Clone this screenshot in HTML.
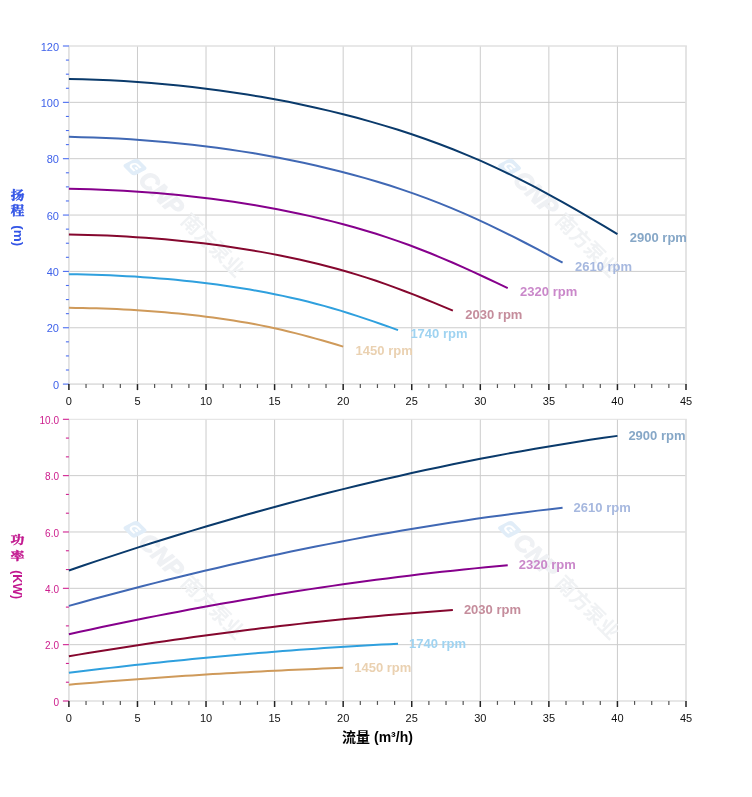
<!DOCTYPE html>
<html lang="zh"><head><meta charset="utf-8"><title>性能曲线</title>
<style>html,body{margin:0;padding:0;background:#fff}body{width:752px;height:797px;overflow:hidden}</style></head>
<body>
<svg width="752" height="797" viewBox="0 0 752 797" style="display:block">
<rect width="752" height="797" fill="#fff"/>
<g stroke="#cccccc" stroke-width="1">
<line x1="137.47" y1="46.0" x2="137.47" y2="384.1"/>
<line x1="206.03" y1="46.0" x2="206.03" y2="384.1"/>
<line x1="274.6" y1="46.0" x2="274.6" y2="384.1"/>
<line x1="343.17" y1="46.0" x2="343.17" y2="384.1"/>
<line x1="411.73" y1="46.0" x2="411.73" y2="384.1"/>
<line x1="480.3" y1="46.0" x2="480.3" y2="384.1"/>
<line x1="548.87" y1="46.0" x2="548.87" y2="384.1"/>
<line x1="617.43" y1="46.0" x2="617.43" y2="384.1"/>
<line x1="68.9" y1="327.75" x2="686.0" y2="327.75"/>
<line x1="68.9" y1="271.4" x2="686.0" y2="271.4"/>
<line x1="68.9" y1="215.05" x2="686.0" y2="215.05"/>
<line x1="68.9" y1="158.7" x2="686.0" y2="158.7"/>
<line x1="68.9" y1="102.35" x2="686.0" y2="102.35"/>
</g>
<path d="M68.9,46.0 V384.1 H686.0 V46.0" fill="none" stroke="#e0e0e0" stroke-width="1.7"/>
<path d="M68.05000000000001,46.0 H686.85" fill="none" stroke="#e0e0e0" stroke-width="1.7"/>
<g transform="translate(135,167.0) rotate(45)">
<g transform="skewX(-18)">
<rect x="-7.8" y="-7.8" width="15.6" height="15.6" rx="3.2" fill="#e1edf8"/>
<path d="M3.6,-3.2 H-0.6 A3.2,3.2 0 0 0 -0.6,3.2 H3.6 M3.6,0 H0.4" fill="none" stroke="#fff" stroke-width="2"/>
</g>
<text x="11.5" y="8.2" font-family="Liberation Sans, Arial, sans-serif" font-weight="bold" font-style="italic" font-size="24.5" fill="#eff1f4" stroke="#eff1f4" stroke-width="1.2">CNP</text>
<text x="70.5" y="7.3" font-family="Liberation Sans, 'Noto Sans CJK SC', sans-serif" font-weight="bold" font-size="20" fill="#f0f2f4">南方泵业</text>
</g>
<g transform="translate(509.5,167.0) rotate(45)">
<g transform="skewX(-18)">
<rect x="-7.8" y="-7.8" width="15.6" height="15.6" rx="3.2" fill="#e1edf8"/>
<path d="M3.6,-3.2 H-0.6 A3.2,3.2 0 0 0 -0.6,3.2 H3.6 M3.6,0 H0.4" fill="none" stroke="#fff" stroke-width="2"/>
</g>
<text x="11.5" y="8.2" font-family="Liberation Sans, Arial, sans-serif" font-weight="bold" font-style="italic" font-size="24.5" fill="#eff1f4" stroke="#eff1f4" stroke-width="1.2">CNP</text>
<text x="70.5" y="7.3" font-family="Liberation Sans, 'Noto Sans CJK SC', sans-serif" font-weight="bold" font-size="20" fill="#f0f2f4">南方泵业</text>
</g>
<g stroke="#4a6cf0" stroke-width="1.1">
<line x1="62.9" y1="384.10" x2="68.9" y2="384.10"/>
<line x1="65.9" y1="370.01" x2="68.9" y2="370.01"/>
<line x1="65.9" y1="355.93" x2="68.9" y2="355.93"/>
<line x1="65.9" y1="341.84" x2="68.9" y2="341.84"/>
<line x1="62.9" y1="327.75" x2="68.9" y2="327.75"/>
<line x1="65.9" y1="313.66" x2="68.9" y2="313.66"/>
<line x1="65.9" y1="299.58" x2="68.9" y2="299.58"/>
<line x1="65.9" y1="285.49" x2="68.9" y2="285.49"/>
<line x1="62.9" y1="271.40" x2="68.9" y2="271.40"/>
<line x1="65.9" y1="257.31" x2="68.9" y2="257.31"/>
<line x1="65.9" y1="243.23" x2="68.9" y2="243.23"/>
<line x1="65.9" y1="229.14" x2="68.9" y2="229.14"/>
<line x1="62.9" y1="215.05" x2="68.9" y2="215.05"/>
<line x1="65.9" y1="200.96" x2="68.9" y2="200.96"/>
<line x1="65.9" y1="186.88" x2="68.9" y2="186.88"/>
<line x1="65.9" y1="172.79" x2="68.9" y2="172.79"/>
<line x1="62.9" y1="158.70" x2="68.9" y2="158.70"/>
<line x1="65.9" y1="144.61" x2="68.9" y2="144.61"/>
<line x1="65.9" y1="130.53" x2="68.9" y2="130.53"/>
<line x1="65.9" y1="116.44" x2="68.9" y2="116.44"/>
<line x1="62.9" y1="102.35" x2="68.9" y2="102.35"/>
<line x1="65.9" y1="88.26" x2="68.9" y2="88.26"/>
<line x1="65.9" y1="74.18" x2="68.9" y2="74.18"/>
<line x1="65.9" y1="60.09" x2="68.9" y2="60.09"/>
<line x1="62.9" y1="46.00" x2="68.9" y2="46.00"/>
</g>
<g font-family="Liberation Sans, Arial, sans-serif" font-size="11" fill="#3f62ea" text-anchor="end">
<text x="59" y="388.8">0</text>
<text x="59" y="332.4">20</text>
<text x="59" y="276.1">40</text>
<text x="59" y="219.8">60</text>
<text x="59" y="163.4">80</text>
<text x="59" y="107.1">100</text>
<text x="59" y="50.7">120</text>
</g>
<g stroke="#333">
<line x1="68.90" y1="384.1" x2="68.90" y2="390.1" stroke-width="1.5" stroke="#222"/>
<line x1="86.04" y1="384.1" x2="86.04" y2="388.0" stroke-width="1.2" stroke="#555"/>
<line x1="103.18" y1="384.1" x2="103.18" y2="388.0" stroke-width="1.2" stroke="#555"/>
<line x1="120.33" y1="384.1" x2="120.33" y2="388.0" stroke-width="1.2" stroke="#555"/>
<line x1="137.47" y1="384.1" x2="137.47" y2="390.1" stroke-width="1.5" stroke="#222"/>
<line x1="154.61" y1="384.1" x2="154.61" y2="388.0" stroke-width="1.2" stroke="#555"/>
<line x1="171.75" y1="384.1" x2="171.75" y2="388.0" stroke-width="1.2" stroke="#555"/>
<line x1="188.89" y1="384.1" x2="188.89" y2="388.0" stroke-width="1.2" stroke="#555"/>
<line x1="206.03" y1="384.1" x2="206.03" y2="390.1" stroke-width="1.5" stroke="#222"/>
<line x1="223.18" y1="384.1" x2="223.18" y2="388.0" stroke-width="1.2" stroke="#555"/>
<line x1="240.32" y1="384.1" x2="240.32" y2="388.0" stroke-width="1.2" stroke="#555"/>
<line x1="257.46" y1="384.1" x2="257.46" y2="388.0" stroke-width="1.2" stroke="#555"/>
<line x1="274.60" y1="384.1" x2="274.60" y2="390.1" stroke-width="1.5" stroke="#222"/>
<line x1="291.74" y1="384.1" x2="291.74" y2="388.0" stroke-width="1.2" stroke="#555"/>
<line x1="308.88" y1="384.1" x2="308.88" y2="388.0" stroke-width="1.2" stroke="#555"/>
<line x1="326.02" y1="384.1" x2="326.02" y2="388.0" stroke-width="1.2" stroke="#555"/>
<line x1="343.17" y1="384.1" x2="343.17" y2="390.1" stroke-width="1.5" stroke="#222"/>
<line x1="360.31" y1="384.1" x2="360.31" y2="388.0" stroke-width="1.2" stroke="#555"/>
<line x1="377.45" y1="384.1" x2="377.45" y2="388.0" stroke-width="1.2" stroke="#555"/>
<line x1="394.59" y1="384.1" x2="394.59" y2="388.0" stroke-width="1.2" stroke="#555"/>
<line x1="411.73" y1="384.1" x2="411.73" y2="390.1" stroke-width="1.5" stroke="#222"/>
<line x1="428.88" y1="384.1" x2="428.88" y2="388.0" stroke-width="1.2" stroke="#555"/>
<line x1="446.02" y1="384.1" x2="446.02" y2="388.0" stroke-width="1.2" stroke="#555"/>
<line x1="463.16" y1="384.1" x2="463.16" y2="388.0" stroke-width="1.2" stroke="#555"/>
<line x1="480.30" y1="384.1" x2="480.30" y2="390.1" stroke-width="1.5" stroke="#222"/>
<line x1="497.44" y1="384.1" x2="497.44" y2="388.0" stroke-width="1.2" stroke="#555"/>
<line x1="514.58" y1="384.1" x2="514.58" y2="388.0" stroke-width="1.2" stroke="#555"/>
<line x1="531.73" y1="384.1" x2="531.73" y2="388.0" stroke-width="1.2" stroke="#555"/>
<line x1="548.87" y1="384.1" x2="548.87" y2="390.1" stroke-width="1.5" stroke="#222"/>
<line x1="566.01" y1="384.1" x2="566.01" y2="388.0" stroke-width="1.2" stroke="#555"/>
<line x1="583.15" y1="384.1" x2="583.15" y2="388.0" stroke-width="1.2" stroke="#555"/>
<line x1="600.29" y1="384.1" x2="600.29" y2="388.0" stroke-width="1.2" stroke="#555"/>
<line x1="617.43" y1="384.1" x2="617.43" y2="390.1" stroke-width="1.5" stroke="#222"/>
<line x1="634.57" y1="384.1" x2="634.57" y2="388.0" stroke-width="1.2" stroke="#555"/>
<line x1="651.72" y1="384.1" x2="651.72" y2="388.0" stroke-width="1.2" stroke="#555"/>
<line x1="668.86" y1="384.1" x2="668.86" y2="388.0" stroke-width="1.2" stroke="#555"/>
<line x1="686.00" y1="384.1" x2="686.00" y2="390.1" stroke-width="1.5" stroke="#222"/>
</g>
<g font-family="Liberation Sans, Arial, sans-serif" font-size="11" fill="#111" text-anchor="middle">
<text x="68.9" y="404.8">0</text>
<text x="137.5" y="404.8">5</text>
<text x="206.0" y="404.8">10</text>
<text x="274.6" y="404.8">15</text>
<text x="343.2" y="404.8">20</text>
<text x="411.7" y="404.8">25</text>
<text x="480.3" y="404.8">30</text>
<text x="548.9" y="404.8">35</text>
<text x="617.4" y="404.8">40</text>
<text x="686.0" y="404.8">45</text>
</g>
<path d="M68.90,78.88 L82.61,79.22 L96.33,79.69 L110.04,80.29 L123.75,81.03 L137.47,81.92 L151.18,82.98 L164.89,84.19 L178.61,85.55 L192.32,87.06 L206.03,88.71 L219.75,90.50 L233.46,92.43 L247.17,94.52 L260.89,96.78 L274.60,99.22 L288.31,101.85 L302.03,104.67 L315.74,107.68 L329.45,110.88 L343.17,114.27 L356.88,117.84 L370.59,121.61 L384.31,125.60 L398.02,129.81 L411.73,134.27 L425.45,138.99 L439.16,143.98 L452.87,149.25 L466.59,154.81 L480.30,160.67 L494.01,166.85 L507.73,173.33 L521.44,180.11 L535.15,187.17 L548.87,194.51 L562.58,202.11 L576.29,209.92 L590.01,217.89 L603.72,225.97 L617.43,234.10" fill="none" stroke="#0a3a6b" stroke-width="2" stroke-linejoin="round"/>
<text x="629.8" y="242.2" font-family="Liberation Sans, Arial, sans-serif" font-weight="bold" font-size="13" fill="#86a7c7">2900 rpm</text>
<path d="M68.90,136.87 L81.24,137.15 L93.58,137.52 L105.93,138.01 L118.27,138.61 L130.61,139.34 L142.95,140.19 L155.29,141.17 L167.64,142.28 L179.98,143.50 L192.32,144.84 L204.66,146.28 L217.00,147.85 L229.35,149.54 L241.69,151.37 L254.03,153.35 L266.37,155.48 L278.71,157.77 L291.06,160.20 L303.40,162.79 L315.74,165.54 L328.08,168.43 L340.42,171.48 L352.77,174.71 L365.11,178.13 L377.45,181.74 L389.79,185.56 L402.13,189.60 L414.48,193.87 L426.82,198.37 L439.16,203.12 L451.50,208.13 L463.84,213.38 L476.19,218.87 L488.53,224.59 L500.87,230.53 L513.21,236.69 L525.55,243.01 L537.90,249.47 L550.24,256.01 L562.58,262.60" fill="none" stroke="#4068b4" stroke-width="2" stroke-linejoin="round"/>
<text x="575.0" y="270.7" font-family="Liberation Sans, Arial, sans-serif" font-weight="bold" font-size="13" fill="#a6b8df">2610 rpm</text>
<path d="M68.90,188.76 L79.87,188.98 L90.84,189.28 L101.81,189.66 L112.78,190.13 L123.75,190.71 L134.72,191.38 L145.69,192.16 L156.67,193.03 L167.64,194.00 L178.61,195.05 L189.58,196.20 L200.55,197.43 L211.52,198.77 L222.49,200.22 L233.46,201.78 L244.43,203.46 L255.40,205.27 L266.37,207.19 L277.34,209.24 L288.31,211.41 L299.28,213.69 L310.25,216.11 L321.23,218.66 L332.20,221.36 L343.17,224.21 L354.14,227.23 L365.11,230.42 L376.08,233.79 L387.05,237.35 L398.02,241.11 L408.99,245.06 L419.96,249.21 L430.93,253.55 L441.90,258.07 L452.87,262.76 L463.84,267.63 L474.81,272.62 L485.79,277.73 L496.76,282.89 L507.73,288.10" fill="none" stroke="#86008c" stroke-width="2" stroke-linejoin="round"/>
<text x="520.1" y="296.2" font-family="Liberation Sans, Arial, sans-serif" font-weight="bold" font-size="13" fill="#ca88ca">2320 rpm</text>
<path d="M68.90,234.54 L78.50,234.71 L88.10,234.94 L97.70,235.23 L107.30,235.59 L116.90,236.03 L126.50,236.55 L136.10,237.14 L145.69,237.81 L155.29,238.55 L164.89,239.36 L174.49,240.24 L184.09,241.18 L193.69,242.21 L203.29,243.31 L212.89,244.51 L222.49,245.80 L232.09,247.18 L241.69,248.66 L251.29,250.22 L260.89,251.88 L270.49,253.63 L280.09,255.48 L289.68,257.43 L299.28,259.50 L308.88,261.68 L318.48,264.00 L328.08,266.44 L337.68,269.02 L347.28,271.75 L356.88,274.62 L366.48,277.65 L376.08,280.82 L385.68,284.14 L395.28,287.60 L404.88,291.20 L414.48,294.92 L424.08,298.75 L433.67,302.66 L443.27,306.61 L452.87,310.60" fill="none" stroke="#85072e" stroke-width="2" stroke-linejoin="round"/>
<text x="465.3" y="318.7" font-family="Liberation Sans, Arial, sans-serif" font-weight="bold" font-size="13" fill="#c58d9c">2030 rpm</text>
<path d="M68.90,274.22 L77.13,274.34 L85.36,274.51 L93.58,274.73 L101.81,274.99 L110.04,275.32 L118.27,275.70 L126.50,276.13 L134.72,276.62 L142.95,277.17 L151.18,277.76 L159.41,278.40 L167.64,279.10 L175.86,279.85 L184.09,280.67 L192.32,281.54 L200.55,282.49 L208.78,283.51 L217.00,284.59 L225.23,285.74 L233.46,286.96 L241.69,288.25 L249.92,289.60 L258.14,291.04 L266.37,292.56 L274.60,294.16 L282.83,295.86 L291.06,297.66 L299.28,299.55 L307.51,301.55 L315.74,303.67 L323.97,305.89 L332.20,308.22 L340.42,310.66 L348.65,313.21 L356.88,315.85 L365.11,318.58 L373.34,321.39 L381.56,324.26 L389.79,327.17 L398.02,330.10" fill="none" stroke="#2fa0de" stroke-width="2" stroke-linejoin="round"/>
<text x="410.4" y="338.2" font-family="Liberation Sans, Arial, sans-serif" font-weight="bold" font-size="13" fill="#9fd3f1">1740 rpm</text>
<path d="M68.90,307.80 L75.76,307.88 L82.61,308.00 L89.47,308.15 L96.33,308.33 L103.18,308.56 L110.04,308.82 L116.90,309.12 L123.75,309.46 L130.61,309.84 L137.47,310.25 L144.32,310.70 L151.18,311.18 L158.04,311.71 L164.89,312.27 L171.75,312.88 L178.61,313.54 L185.46,314.24 L192.32,315.00 L199.18,315.80 L206.03,316.64 L212.89,317.54 L219.75,318.48 L226.60,319.47 L233.46,320.53 L240.32,321.64 L247.17,322.82 L254.03,324.07 L260.89,325.39 L267.74,326.78 L274.60,328.24 L281.46,329.79 L288.31,331.41 L295.17,333.10 L302.03,334.87 L308.88,336.70 L315.74,338.60 L322.60,340.55 L329.45,342.55 L336.31,344.57 L343.17,346.60" fill="none" stroke="#cf9a5a" stroke-width="2" stroke-linejoin="round"/>
<text x="355.6" y="354.7" font-family="Liberation Sans, Arial, sans-serif" font-weight="bold" font-size="13" fill="#ead1b1">1450 rpm</text>
<g font-family="Liberation Sans, 'Noto Serif CJK SC', 'Noto Sans CJK SC', sans-serif" font-weight="bold" fill="#3355e6">
<text transform="translate(17.5,195.6) scale(1.05,0.95)" x="0" y="4.5" font-size="13" text-anchor="middle" stroke="#3355e6" stroke-width="0.45">扬</text>
<text transform="translate(17.5,211.0) scale(1.05,0.95)" x="0" y="4.5" font-size="13" text-anchor="middle" stroke="#3355e6" stroke-width="0.45">程</text>
<text transform="translate(14.1,225.3) rotate(90)" font-size="13" textLength="21" lengthAdjust="spacingAndGlyphs">(m)</text>
</g>
<g stroke="#cccccc" stroke-width="1">
<line x1="137.47" y1="419.3" x2="137.47" y2="701.0"/>
<line x1="206.03" y1="419.3" x2="206.03" y2="701.0"/>
<line x1="274.6" y1="419.3" x2="274.6" y2="701.0"/>
<line x1="343.17" y1="419.3" x2="343.17" y2="701.0"/>
<line x1="411.73" y1="419.3" x2="411.73" y2="701.0"/>
<line x1="480.3" y1="419.3" x2="480.3" y2="701.0"/>
<line x1="548.87" y1="419.3" x2="548.87" y2="701.0"/>
<line x1="617.43" y1="419.3" x2="617.43" y2="701.0"/>
<line x1="68.9" y1="644.66" x2="686.0" y2="644.66"/>
<line x1="68.9" y1="588.32" x2="686.0" y2="588.32"/>
<line x1="68.9" y1="531.98" x2="686.0" y2="531.98"/>
<line x1="68.9" y1="475.64" x2="686.0" y2="475.64"/>
</g>
<path d="M68.9,419.3 V701.0 H686.0 V419.3" fill="none" stroke="#e0e0e0" stroke-width="1.7"/>
<path d="M68.05000000000001,419.3 H686.85" fill="none" stroke="#e0e0e0" stroke-width="1.0"/>
<g transform="translate(135,529.3) rotate(45)">
<g transform="skewX(-18)">
<rect x="-7.8" y="-7.8" width="15.6" height="15.6" rx="3.2" fill="#e1edf8"/>
<path d="M3.6,-3.2 H-0.6 A3.2,3.2 0 0 0 -0.6,3.2 H3.6 M3.6,0 H0.4" fill="none" stroke="#fff" stroke-width="2"/>
</g>
<text x="11.5" y="8.2" font-family="Liberation Sans, Arial, sans-serif" font-weight="bold" font-style="italic" font-size="24.5" fill="#eff1f4" stroke="#eff1f4" stroke-width="1.2">CNP</text>
<text x="70.5" y="7.3" font-family="Liberation Sans, 'Noto Sans CJK SC', sans-serif" font-weight="bold" font-size="20" fill="#f0f2f4">南方泵业</text>
</g>
<g transform="translate(509.5,529.3) rotate(45)">
<g transform="skewX(-18)">
<rect x="-7.8" y="-7.8" width="15.6" height="15.6" rx="3.2" fill="#e1edf8"/>
<path d="M3.6,-3.2 H-0.6 A3.2,3.2 0 0 0 -0.6,3.2 H3.6 M3.6,0 H0.4" fill="none" stroke="#fff" stroke-width="2"/>
</g>
<text x="11.5" y="8.2" font-family="Liberation Sans, Arial, sans-serif" font-weight="bold" font-style="italic" font-size="24.5" fill="#eff1f4" stroke="#eff1f4" stroke-width="1.2">CNP</text>
<text x="70.5" y="7.3" font-family="Liberation Sans, 'Noto Sans CJK SC', sans-serif" font-weight="bold" font-size="20" fill="#f0f2f4">南方泵业</text>
</g>
<g stroke="#d02090" stroke-width="1.1">
<line x1="62.9" y1="701.00" x2="68.9" y2="701.00"/>
<line x1="65.9" y1="682.22" x2="68.9" y2="682.22"/>
<line x1="65.9" y1="663.44" x2="68.9" y2="663.44"/>
<line x1="62.9" y1="644.66" x2="68.9" y2="644.66"/>
<line x1="65.9" y1="625.88" x2="68.9" y2="625.88"/>
<line x1="65.9" y1="607.10" x2="68.9" y2="607.10"/>
<line x1="62.9" y1="588.32" x2="68.9" y2="588.32"/>
<line x1="65.9" y1="569.54" x2="68.9" y2="569.54"/>
<line x1="65.9" y1="550.76" x2="68.9" y2="550.76"/>
<line x1="62.9" y1="531.98" x2="68.9" y2="531.98"/>
<line x1="65.9" y1="513.20" x2="68.9" y2="513.20"/>
<line x1="65.9" y1="494.42" x2="68.9" y2="494.42"/>
<line x1="62.9" y1="475.64" x2="68.9" y2="475.64"/>
<line x1="65.9" y1="456.86" x2="68.9" y2="456.86"/>
<line x1="65.9" y1="438.08" x2="68.9" y2="438.08"/>
<line x1="62.9" y1="419.30" x2="68.9" y2="419.30"/>
</g>
<g font-family="Liberation Sans, Arial, sans-serif" font-size="10" fill="#cc1c8c" text-anchor="end">
<text x="59" y="705.7">0</text>
<text x="59" y="649.4">2.0</text>
<text x="59" y="593.0">4.0</text>
<text x="59" y="536.7">6.0</text>
<text x="59" y="480.3">8.0</text>
<text x="59" y="424.0">10.0</text>
</g>
<g stroke="#333">
<line x1="68.90" y1="701.0" x2="68.90" y2="707.0" stroke-width="1.5" stroke="#222"/>
<line x1="86.04" y1="701.0" x2="86.04" y2="704.9" stroke-width="1.2" stroke="#555"/>
<line x1="103.18" y1="701.0" x2="103.18" y2="704.9" stroke-width="1.2" stroke="#555"/>
<line x1="120.33" y1="701.0" x2="120.33" y2="704.9" stroke-width="1.2" stroke="#555"/>
<line x1="137.47" y1="701.0" x2="137.47" y2="707.0" stroke-width="1.5" stroke="#222"/>
<line x1="154.61" y1="701.0" x2="154.61" y2="704.9" stroke-width="1.2" stroke="#555"/>
<line x1="171.75" y1="701.0" x2="171.75" y2="704.9" stroke-width="1.2" stroke="#555"/>
<line x1="188.89" y1="701.0" x2="188.89" y2="704.9" stroke-width="1.2" stroke="#555"/>
<line x1="206.03" y1="701.0" x2="206.03" y2="707.0" stroke-width="1.5" stroke="#222"/>
<line x1="223.18" y1="701.0" x2="223.18" y2="704.9" stroke-width="1.2" stroke="#555"/>
<line x1="240.32" y1="701.0" x2="240.32" y2="704.9" stroke-width="1.2" stroke="#555"/>
<line x1="257.46" y1="701.0" x2="257.46" y2="704.9" stroke-width="1.2" stroke="#555"/>
<line x1="274.60" y1="701.0" x2="274.60" y2="707.0" stroke-width="1.5" stroke="#222"/>
<line x1="291.74" y1="701.0" x2="291.74" y2="704.9" stroke-width="1.2" stroke="#555"/>
<line x1="308.88" y1="701.0" x2="308.88" y2="704.9" stroke-width="1.2" stroke="#555"/>
<line x1="326.02" y1="701.0" x2="326.02" y2="704.9" stroke-width="1.2" stroke="#555"/>
<line x1="343.17" y1="701.0" x2="343.17" y2="707.0" stroke-width="1.5" stroke="#222"/>
<line x1="360.31" y1="701.0" x2="360.31" y2="704.9" stroke-width="1.2" stroke="#555"/>
<line x1="377.45" y1="701.0" x2="377.45" y2="704.9" stroke-width="1.2" stroke="#555"/>
<line x1="394.59" y1="701.0" x2="394.59" y2="704.9" stroke-width="1.2" stroke="#555"/>
<line x1="411.73" y1="701.0" x2="411.73" y2="707.0" stroke-width="1.5" stroke="#222"/>
<line x1="428.88" y1="701.0" x2="428.88" y2="704.9" stroke-width="1.2" stroke="#555"/>
<line x1="446.02" y1="701.0" x2="446.02" y2="704.9" stroke-width="1.2" stroke="#555"/>
<line x1="463.16" y1="701.0" x2="463.16" y2="704.9" stroke-width="1.2" stroke="#555"/>
<line x1="480.30" y1="701.0" x2="480.30" y2="707.0" stroke-width="1.5" stroke="#222"/>
<line x1="497.44" y1="701.0" x2="497.44" y2="704.9" stroke-width="1.2" stroke="#555"/>
<line x1="514.58" y1="701.0" x2="514.58" y2="704.9" stroke-width="1.2" stroke="#555"/>
<line x1="531.73" y1="701.0" x2="531.73" y2="704.9" stroke-width="1.2" stroke="#555"/>
<line x1="548.87" y1="701.0" x2="548.87" y2="707.0" stroke-width="1.5" stroke="#222"/>
<line x1="566.01" y1="701.0" x2="566.01" y2="704.9" stroke-width="1.2" stroke="#555"/>
<line x1="583.15" y1="701.0" x2="583.15" y2="704.9" stroke-width="1.2" stroke="#555"/>
<line x1="600.29" y1="701.0" x2="600.29" y2="704.9" stroke-width="1.2" stroke="#555"/>
<line x1="617.43" y1="701.0" x2="617.43" y2="707.0" stroke-width="1.5" stroke="#222"/>
<line x1="634.57" y1="701.0" x2="634.57" y2="704.9" stroke-width="1.2" stroke="#555"/>
<line x1="651.72" y1="701.0" x2="651.72" y2="704.9" stroke-width="1.2" stroke="#555"/>
<line x1="668.86" y1="701.0" x2="668.86" y2="704.9" stroke-width="1.2" stroke="#555"/>
<line x1="686.00" y1="701.0" x2="686.00" y2="707.0" stroke-width="1.5" stroke="#222"/>
</g>
<g font-family="Liberation Sans, Arial, sans-serif" font-size="11" fill="#111" text-anchor="middle">
<text x="68.9" y="721.7">0</text>
<text x="137.5" y="721.7">5</text>
<text x="206.0" y="721.7">10</text>
<text x="274.6" y="721.7">15</text>
<text x="343.2" y="721.7">20</text>
<text x="411.7" y="721.7">25</text>
<text x="480.3" y="721.7">30</text>
<text x="548.9" y="721.7">35</text>
<text x="617.4" y="721.7">40</text>
<text x="686.0" y="721.7">45</text>
</g>
<path d="M68.90,570.47 L82.61,565.78 L96.33,561.16 L110.04,556.60 L123.75,552.10 L137.47,547.67 L151.18,543.30 L164.89,539.00 L178.61,534.76 L192.32,530.59 L206.03,526.49 L219.75,522.45 L233.46,518.48 L247.17,514.57 L260.89,510.73 L274.60,506.96 L288.31,503.26 L302.03,499.63 L315.74,496.07 L329.45,492.57 L343.17,489.15 L356.88,485.79 L370.59,482.51 L384.31,479.30 L398.02,476.16 L411.73,473.09 L425.45,470.09 L439.16,467.16 L452.87,464.31 L466.59,461.53 L480.30,458.82 L494.01,456.19 L507.73,453.63 L521.44,451.15 L535.15,448.74 L548.87,446.40 L562.58,444.14 L576.29,441.96 L590.01,439.85 L603.72,437.82 L617.43,435.87" fill="none" stroke="#0a3a6b" stroke-width="2" stroke-linejoin="round"/>
<text x="628.4" y="439.7" font-family="Liberation Sans, Arial, sans-serif" font-weight="bold" font-size="13" fill="#86a7c7">2900 rpm</text>
<path d="M68.90,605.84 L81.24,602.43 L93.58,599.05 L105.93,595.73 L118.27,592.45 L130.61,589.22 L142.95,586.04 L155.29,582.90 L167.64,579.81 L179.98,576.77 L192.32,573.78 L204.66,570.84 L217.00,567.94 L229.35,565.09 L241.69,562.30 L254.03,559.55 L266.37,556.85 L278.71,554.20 L291.06,551.60 L303.40,549.06 L315.74,546.56 L328.08,544.12 L340.42,541.72 L352.77,539.38 L365.11,537.09 L377.45,534.85 L389.79,532.67 L402.13,530.53 L414.48,528.45 L426.82,526.43 L439.16,524.45 L451.50,522.53 L463.84,520.67 L476.19,518.86 L488.53,517.10 L500.87,515.40 L513.21,513.75 L525.55,512.16 L537.90,510.62 L550.24,509.14 L562.58,507.72" fill="none" stroke="#4068b4" stroke-width="2" stroke-linejoin="round"/>
<text x="573.6" y="511.5" font-family="Liberation Sans, Arial, sans-serif" font-weight="bold" font-size="13" fill="#a6b8df">2610 rpm</text>
<path d="M68.90,634.17 L79.87,631.77 L90.84,629.40 L101.81,627.07 L112.78,624.76 L123.75,622.49 L134.72,620.26 L145.69,618.06 L156.67,615.89 L167.64,613.75 L178.61,611.65 L189.58,609.58 L200.55,607.55 L211.52,605.55 L222.49,603.58 L233.46,601.65 L244.43,599.76 L255.40,597.90 L266.37,596.07 L277.34,594.29 L288.31,592.53 L299.28,590.81 L310.25,589.13 L321.23,587.49 L332.20,585.88 L343.17,584.31 L354.14,582.77 L365.11,581.27 L376.08,579.81 L387.05,578.39 L398.02,577.00 L408.99,575.66 L419.96,574.35 L430.93,573.07 L441.90,571.84 L452.87,570.65 L463.84,569.49 L474.81,568.37 L485.79,567.29 L496.76,566.25 L507.73,565.25" fill="none" stroke="#86008c" stroke-width="2" stroke-linejoin="round"/>
<text x="518.7" y="569.1" font-family="Liberation Sans, Arial, sans-serif" font-weight="bold" font-size="13" fill="#ca88ca">2320 rpm</text>
<path d="M68.90,656.23 L78.50,654.62 L88.10,653.03 L97.70,651.47 L107.30,649.93 L116.90,648.41 L126.50,646.91 L136.10,645.43 L145.69,643.98 L155.29,642.55 L164.89,641.14 L174.49,639.76 L184.09,638.39 L193.69,637.05 L203.29,635.74 L212.89,634.45 L222.49,633.18 L232.09,631.93 L241.69,630.71 L251.29,629.51 L260.89,628.34 L270.49,627.18 L280.09,626.06 L289.68,624.96 L299.28,623.88 L308.88,622.83 L318.48,621.80 L328.08,620.79 L337.68,619.81 L347.28,618.86 L356.88,617.93 L366.48,617.03 L376.08,616.15 L385.68,615.30 L395.28,614.47 L404.88,613.67 L414.48,612.90 L424.08,612.15 L433.67,611.43 L443.27,610.73 L452.87,610.06" fill="none" stroke="#85072e" stroke-width="2" stroke-linejoin="round"/>
<text x="463.9" y="613.9" font-family="Liberation Sans, Arial, sans-serif" font-weight="bold" font-size="13" fill="#c58d9c">2030 rpm</text>
<path d="M68.90,672.80 L77.13,671.79 L85.36,670.79 L93.58,669.81 L101.81,668.84 L110.04,667.88 L118.27,666.94 L126.50,666.01 L134.72,665.09 L142.95,664.19 L151.18,663.30 L159.41,662.43 L167.64,661.57 L175.86,660.73 L184.09,659.90 L192.32,659.09 L200.55,658.29 L208.78,657.50 L217.00,656.73 L225.23,655.98 L233.46,655.24 L241.69,654.52 L249.92,653.81 L258.14,653.11 L266.37,652.43 L274.60,651.77 L282.83,651.12 L291.06,650.49 L299.28,649.87 L307.51,649.27 L315.74,648.69 L323.97,648.12 L332.20,647.57 L340.42,647.03 L348.65,646.51 L356.88,646.01 L365.11,645.52 L373.34,645.05 L381.56,644.59 L389.79,644.15 L398.02,643.73" fill="none" stroke="#2fa0de" stroke-width="2" stroke-linejoin="round"/>
<text x="409.0" y="647.5" font-family="Liberation Sans, Arial, sans-serif" font-weight="bold" font-size="13" fill="#9fd3f1">1740 rpm</text>
<path d="M68.90,684.68 L75.76,684.10 L82.61,683.52 L89.47,682.95 L96.33,682.39 L103.18,681.83 L110.04,681.29 L116.90,680.75 L123.75,680.22 L130.61,679.70 L137.47,679.19 L144.32,678.68 L151.18,678.18 L158.04,677.70 L164.89,677.22 L171.75,676.75 L178.61,676.28 L185.46,675.83 L192.32,675.38 L199.18,674.95 L206.03,674.52 L212.89,674.10 L219.75,673.69 L226.60,673.29 L233.46,672.89 L240.32,672.51 L247.17,672.14 L254.03,671.77 L260.89,671.41 L267.74,671.07 L274.60,670.73 L281.46,670.40 L288.31,670.08 L295.17,669.77 L302.03,669.47 L308.88,669.18 L315.74,668.89 L322.60,668.62 L329.45,668.36 L336.31,668.10 L343.17,667.86" fill="none" stroke="#cf9a5a" stroke-width="2" stroke-linejoin="round"/>
<text x="354.2" y="671.7" font-family="Liberation Sans, Arial, sans-serif" font-weight="bold" font-size="13" fill="#ead1b1">1450 rpm</text>
<g font-family="Liberation Sans, 'Noto Serif CJK SC', 'Noto Sans CJK SC', sans-serif" font-weight="bold" fill="#c2188f">
<text transform="translate(17.5,540.6) scale(1.07,0.85)" x="0" y="4.5" font-size="13" text-anchor="middle" stroke="#c2188f" stroke-width="0.45">功</text>
<text transform="translate(17.5,555.8) scale(1.07,0.85)" x="0" y="4.5" font-size="13" text-anchor="middle" stroke="#c2188f" stroke-width="0.45">率</text>
<text transform="translate(13.4,570.2) rotate(90)" font-size="13" textLength="29" lengthAdjust="spacingAndGlyphs">(KW)</text>
</g>
<text x="377.5" y="741.5" text-anchor="middle" font-family="Liberation Sans, 'Noto Sans CJK SC', sans-serif" font-weight="bold" font-size="14" fill="#000">流量 (m³/h)</text>
</svg>
</body></html>
